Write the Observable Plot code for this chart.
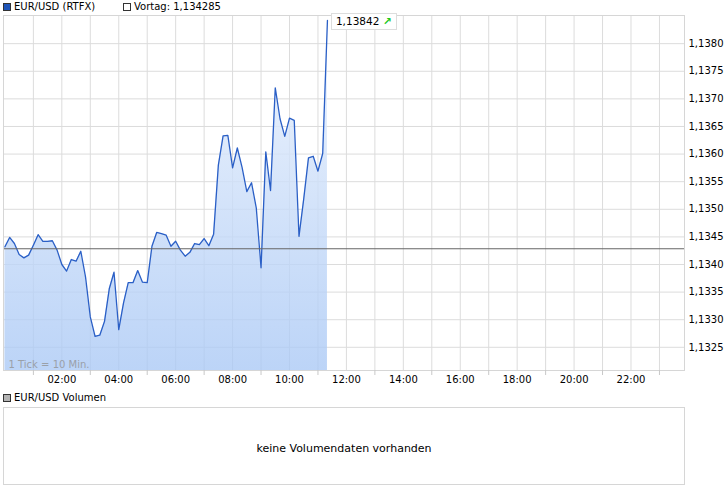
<!DOCTYPE html>
<html><head><meta charset="utf-8">
<script src="https://cdn.jsdelivr.net/npm/d3@7"></script>
<script src="https://cdn.jsdelivr.net/npm/@observablehq/plot@0.6"></script>
<style>
body{margin:0;background:#fff;font-family:"DejaVu Sans",sans-serif;font-size:10px;color:#000}
#wrap{position:relative;width:726px;height:496px;overflow:hidden}
.abs{position:absolute;white-space:nowrap;line-height:13px}
.sq{position:absolute;width:6px;height:6px;border:1px solid #333}
svg{position:absolute;left:0}
</style></head><body><div id="wrap"></div>
<script>
const seriesName = "EUR/USD (RTFX)";
const prevLabel = "Vortag: 1,134285";
const volumeName = "EUR/USD Volumen";
const volumeMessage = "keine Volumendaten vorhanden";
const tickNote = "1 Tick = 10 Min.";

const times = ["00:00","00:10","00:20","00:30","00:40","00:50",
  "01:00","01:10","01:20","01:30","01:40","01:50",
  "02:00","02:10","02:20","02:30","02:40","02:50",
  "03:00","03:10","03:20","03:30","03:40","03:50",
  "04:00","04:10","04:20","04:30","04:40","04:50",
  "05:00","05:10","05:20","05:30","05:40","05:50",
  "06:00","06:10","06:20","06:30","06:40","06:50",
  "07:00","07:10","07:20","07:30","07:40","07:50",
  "08:00","08:10","08:20","08:30","08:40","08:50",
  "09:00","09:10","09:20","09:30","09:40","09:50",
  "10:00","10:10","10:20","10:30","10:40","10:50",
  "11:00","11:10","11:20"];
const values = [1.13432,1.13449,1.13438,1.13418,1.13412,1.13417,
  1.13435,1.13454,1.13442,1.13442,1.13443,1.13426,
  1.13400,1.13388,1.13409,1.13406,1.13424,1.13377,
  1.13305,1.13270,1.13272,1.13297,1.13356,1.13386,
  1.13282,1.13330,1.13367,1.13367,1.13389,1.13368,
  1.13367,1.13433,1.13458,1.13456,1.13453,1.13433,
  1.13442,1.13426,1.13415,1.13422,1.13438,1.13436,
  1.13447,1.13434,1.13455,1.13580,1.13633,1.13634,
  1.13575,1.13611,1.13576,1.13532,1.13548,1.13502,
  1.13394,1.13604,1.13534,1.13720,1.13664,1.13632,
  1.13665,1.13661,1.13451,1.13519,1.13593,1.13596,
  1.13569,1.13601,1.13842];
const previousClose = 1.134285;
const lastLabel = "1,13842";
const yTicks = [1.1325,1.1330,1.1335,1.1340,1.1345,1.1350,1.1355,1.1360,1.1365,1.1370,1.1375,1.1380];
const yDomain = [1.13208, 1.13851];
const xDomain = [-0.05, 23.88];
const gridHours = [1,2,3,4,5,6,7,8,9,10,11,12,13,14,15,16,17,18,19,20,21,22,23];
const labelHours = [2,4,6,8,10,12,14,16,18,20,22];
const minorHours = [1,3,5,7,9,11,13,15,17,19,21,23];

const toHour = t => { const [h, m] = t.split(":").map(Number); return h + m / 60; };
const data = times.map((t, i) => ({h: toHour(t), v: values[i]}));
const fmtComma = d => d3.format(".4f")(d).replace(".", ",");
const fmtHour = h => String(h).padStart(2, "0") + ":00";

const NS = "http://www.w3.org/2000/svg";
function gradientDefs() {
  const defs = document.createElementNS(NS, "defs");
  const g = document.createElementNS(NS, "linearGradient");
  g.setAttribute("id", "areaGrad");
  g.setAttribute("x1", "0"); g.setAttribute("y1", "0");
  g.setAttribute("x2", "0"); g.setAttribute("y2", "1");
  [["0%", "#eef4fd", 0.85], ["100%", "#a9c8f5", 0.78]].forEach(([o, c, a]) => {
    const s = document.createElementNS(NS, "stop");
    s.setAttribute("offset", o); s.setAttribute("stop-color", c); s.setAttribute("stop-opacity", a);
    g.appendChild(s);
  });
  defs.appendChild(g);
  return defs;
}

const wrap = document.getElementById("wrap");

const chart = Plot.plot({
  width: 726, height: 392,
  marginTop: 15, marginBottom: 22, marginLeft: 3, marginRight: 42,
  style: {fontFamily: "DejaVu Sans", fontSize: "10px", color: "#000", background: "transparent", overflow: "visible"},
  x: {domain: xDomain, label: null},
  y: {domain: yDomain, label: null},
  marks: [
    gradientDefs,
    Plot.gridX(gridHours, {stroke: "#dcdcdc", strokeOpacity: 1}),
    Plot.gridY(yTicks, {stroke: "#dcdcdc", strokeOpacity: 1}),
    Plot.areaY(data, {x: "h", y1: yDomain[0], y2: "v", fill: "url(#areaGrad)"}),
    Plot.line(data, {x: "h", y: "v", stroke: "#2a5fc6", strokeWidth: 1.3}),
    Plot.ruleY([previousClose], {stroke: "#666", strokeWidth: 1}),
    Plot.frame({stroke: "#d6d6d6"}),
    Plot.axisY(yTicks, {anchor: "right", tickSize: 0, tickPadding: 4, tickFormat: fmtComma, label: null}),
    Plot.axisX(minorHours, {anchor: "bottom", tickSize: 5, stroke: "#c8c8c8", tickFormat: () => "", label: null}),
    Plot.axisX(labelHours, {anchor: "bottom", tickSize: 0, tickPadding: 5, tickFormat: fmtHour, label: null}),
    Plot.text([tickNote], {frameAnchor: "bottom-left", dx: 5, dy: -3, fill: "#9aa0a8", fontSize: 10})
  ]
});
chart.style.top = "0px";
wrap.appendChild(chart);

// last value label box, positioned via the chart's own scales
const sx = chart.scale("x"), sy = chart.scale("y");
const lx = sx.apply(data[data.length - 1].h), ly = sy.apply(data[data.length - 1].v);
const box = document.createElement("div");
box.className = "abs";
box.style.cssText = `left:${lx + 4}px;top:${ly - 7}px;height:15px;line-height:15px;padding:0 4px;background:#fff;border:1px solid #ddd;font-size:10.5px`;
box.innerHTML = `${lastLabel} <span style="color:#1ec81e;font-weight:bold">&#8599;</span>`;
wrap.appendChild(box);

// top legend
function legendItem(x, y, text, fill) {
  const sq = document.createElement("div");
  sq.className = "sq"; sq.style.left = x + "px"; sq.style.top = (y + 3) + "px"; sq.style.background = fill;
  wrap.appendChild(sq);
  const t = document.createElement("div");
  t.className = "abs"; t.style.left = (x + 11) + "px"; t.style.top = y + "px"; t.textContent = text;
  wrap.appendChild(t);
}
legendItem(3, 0, seriesName, "#1f55b8");
legendItem(123, 0, prevLabel, "#fff");
legendItem(3, 391, volumeName, "#b4b4b4");

// volume panel
const vol = Plot.plot({
  width: 726, height: 79,
  marginTop: 1, marginBottom: 1, marginLeft: 3, marginRight: 42,
  style: {fontFamily: "DejaVu Sans", fontSize: "11px", color: "#000", background: "transparent"},
  x: {domain: [0, 1], axis: null},
  y: {domain: [0, 1], axis: null},
  marks: [
    Plot.frame({stroke: "#d6d6d6"}),
    Plot.text([volumeMessage], {frameAnchor: "middle", dy: 2, fontSize: 11, fill: "#000"})
  ]
});
vol.style.top = "406px";
wrap.appendChild(vol);
</script></body></html>
